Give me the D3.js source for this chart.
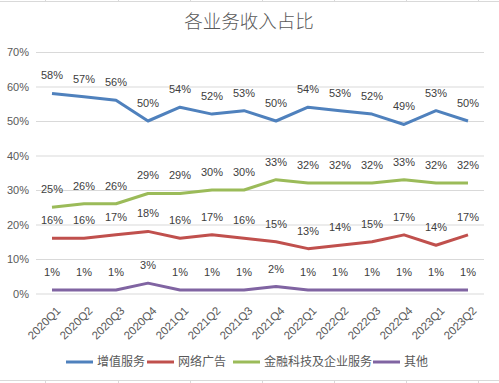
<!DOCTYPE html>
<html><head><meta charset="utf-8">
<script src="https://cdn.jsdelivr.net/npm/d3@7"></script>
<style>body{margin:0;background:#fff}svg{display:block}</style>
</head><body><svg id="c" width="499" height="383"></svg>
<script>
const categories = ["2020Q1","2020Q2","2020Q3","2020Q4","2021Q1","2021Q2","2021Q3","2021Q4","2022Q1","2022Q2","2022Q3","2022Q4","2023Q1","2023Q2"];
const valueAdded = [58,57,56,50,54,52,53,50,54,53,52,49,53,50];
const onlineAds = [16,16,17,18,16,17,16,15,13,14,15,17,14,17];
const fintech = [25,26,26,29,29,30,30,33,32,32,32,33,32,32];
const others = [1,1,1,3,1,1,1,2,1,1,1,1,1,1];
const seriesNames = ["增值服务","网络广告","金融科技及企业服务","其他"];
const yTicks = [0,10,20,30,40,50,60,70];
const colors = ["#4F81BD","#C0504D","#9BBB59","#8064A2"];
const series = [valueAdded, onlineAds, fintech, others];

const svg = d3.select("#c");
const font = "'Liberation Sans', 'Noto Sans CJK SC', sans-serif";

// sheet lines
[1.5, 380.5].forEach(y => {
  svg.append("line").attr("x1",0).attr("x2",499).attr("y1",y).attr("y2",y).attr("stroke","#d9d9d9");
  [45,118,190,262,334,406,478].forEach(x=>{
    svg.append("line").attr("x1",x+0.5).attr("x2",x+0.5).attr("y1",y<10?0:y).attr("y2",y<10?y:383).attr("stroke","#d9d9d9");
  });
});

const x = d3.scalePoint().domain(categories).range([36,484]).padding(0.5);
const y = d3.scaleLinear().domain([0,70]).range([293.5,52]);

svg.append("text").attr("x",249).attr("y",28).attr("text-anchor","middle")
  .attr("font-family","'Noto Sans CJK SC', sans-serif").attr("font-weight",300).attr("font-size",18.5).attr("fill","#595959").text("各业务收入占比");

// grid
const grid = svg.append("g").attr("transform","translate(36,0)")
  .call(d3.axisLeft(y).tickValues(yTicks).tickSize(-448).tickFormat(""));
grid.select(".domain").remove();
grid.selectAll("line").attr("stroke","#d9d9d9");

const yAx = svg.append("g").attr("transform","translate(30,0)")
  .call(d3.axisLeft(y).tickValues(yTicks).tickSize(0).tickFormat(d=>d+"%"));
yAx.select(".domain").remove();
yAx.selectAll("text").attr("font-family",font).attr("font-size",11).attr("fill","#595959").attr("dy","0.35em").attr("x",-1);

const xAx = svg.append("g").attr("transform","translate(0,293.5)")
  .call(d3.axisBottom(x).tickSize(0));
xAx.select(".domain").remove();
xAx.selectAll("text").attr("font-family",font).attr("font-size",11.5).attr("fill","#595959")
  .attr("text-anchor","end").attr("transform","translate(6,15) rotate(-45)").attr("dy","0.35em").attr("y",0);

const line = d3.line().x((d,i)=>x(categories[i])).y(d=>y(d));
series.forEach((s,k)=>{
  svg.append("path").datum(s).attr("d",line).attr("fill","none").attr("stroke",colors[k])
    .attr("stroke-width",3).attr("stroke-linejoin","round");
});
series.forEach((s,k)=>{
  svg.append("g").selectAll("text").data(s).join("text")
    .attr("x",(d,i)=>x(categories[i])).attr("y",d=>y(d)-14)
    .attr("text-anchor","middle").attr("font-family",font).attr("font-size",11).attr("fill","#404040")
    .text(d=>d+"%");
});

// legend
const legX = [66,147,233,373];
seriesNames.forEach((n,k)=>{
  const g = svg.append("g").attr("transform",`translate(${legX[k]},362)`);
  g.append("line").attr("x1",0).attr("x2",27).attr("stroke",colors[k]).attr("stroke-width",3);
  g.append("text").attr("x",31).attr("dy","0.35em").attr("font-family","'Noto Sans CJK SC', sans-serif")
    .attr("font-size",12).attr("fill","#595959").text(n);
});
</script></body></html>
